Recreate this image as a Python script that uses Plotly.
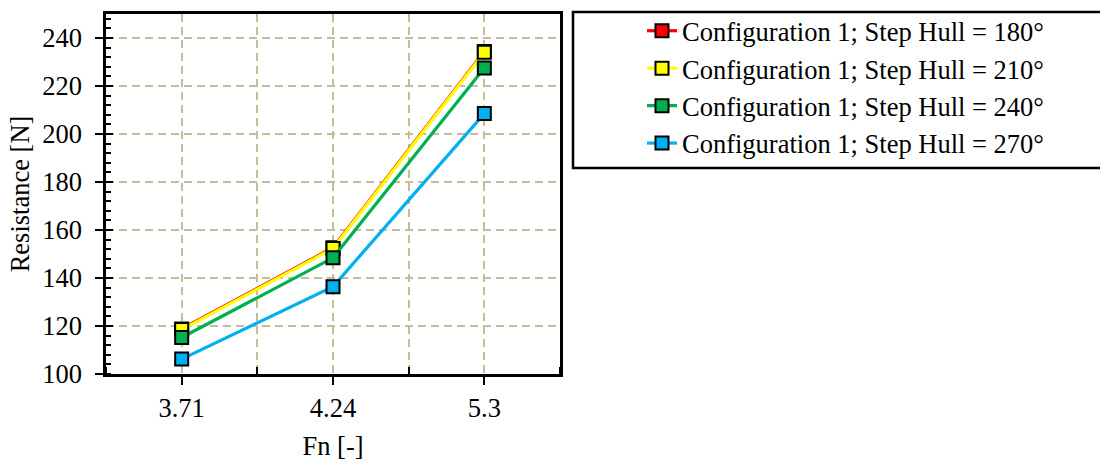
import plotly.graph_objects as go

fn_labels = ["3.71", "4.24", "5.3"]
series_names = [
    "Configuration 1; Step Hull = 180°",
    "Configuration 1; Step Hull = 210°",
    "Configuration 1; Step Hull = 240°",
    "Configuration 1; Step Hull = 270°",
]
res_180 = [118.8, 152.6, 234.4]
res_210 = [118.5, 152.3, 234.1]
res_240 = [115.2, 148.4, 227.5]
res_270 = [106.2, 136.4, 208.5]
colors = ["#FF0000", "#FFFF00", "#00B050", "#00B0F0"]

FONT = "Liberation Serif"
FS = 26.5
W, H = 1100, 461
L, R, T, B = 106, 560, 14, 374

xpos = list(range(len(fn_labels)))

fig = go.Figure()
for name, vals, col in zip(series_names, [res_180, res_210, res_240, res_270], colors):
    fig.add_trace(go.Scatter(
        x=xpos, y=vals, name=name, mode="lines+markers",
        line=dict(color=col, width=3.2),
        marker=dict(symbol="square", size=13, color=col, line=dict(color="black", width=2)),
        legendgroup=name,
    ))

# invisible trace to anchor the second y axis (cross ticks)
fig.add_trace(go.Scatter(x=[None], y=[None], yaxis="y2", showlegend=False, hoverinfo="skip"))

grid_col = "#C4BD97"
fig.update_layout(
    width=W, height=H,
    margin=dict(l=L, r=W - R, t=T, b=H - B, pad=0, autoexpand=False),
    paper_bgcolor="white", plot_bgcolor="white",
    font=dict(family=FONT, size=FS, color="black"),
    xaxis=dict(
        range=[-0.5, 2.5], tickmode="array", tickvals=xpos, ticktext=fn_labels,
        ticks="outside", ticklen=8, tickwidth=2, tickcolor="black",
        showgrid=True, gridcolor=grid_col, gridwidth=2, griddash="8px,5px",
        minor=dict(tick0=0.5, dtick=1, ticks="inside", ticklen=7, tickwidth=2, tickcolor="black",
                   showgrid=True, gridcolor=grid_col, gridwidth=2, griddash="8px,5px"),
        showline=True, linecolor="black", linewidth=2.5, mirror=True,
        zeroline=False, ticklabelstandoff=0, automargin=False,
        title=dict(text="Fn [-]", font=dict(size=FS), standoff=16),
    ),
    yaxis=dict(
        range=[100, 250], tick0=100, dtick=20,
        ticks="outside", ticklen=8, tickwidth=2, tickcolor="black",
        showgrid=True, gridcolor=grid_col, gridwidth=2, griddash="8px,5px",
        minor=dict(dtick=4, ticks="inside", ticklen=5, tickwidth=2, tickcolor="black", showgrid=False),
        showline=True, linecolor="black", linewidth=2.5, mirror=True,
        zeroline=False, ticklabelstandoff=8, automargin=False,
        title=dict(text="Resistance [N]", font=dict(size=FS), standoff=5),
    ),
    yaxis2=dict(
        range=[100, 250], tick0=100, dtick=20, overlaying="y", side="left", anchor="x",
        ticks="inside", ticklen=7, tickwidth=2, tickcolor="black", automargin=False,
        showticklabels=False, showgrid=False, zeroline=False, showline=False,
    ),
    showlegend=True,
    legend=dict(
        x=(642 - L) / (R - L), y=1.0 + 7 / (B - T), xanchor="left", yanchor="top",
        bgcolor="rgba(0,0,0,0)", borderwidth=0,
        font=dict(family=FONT, size=FS, color="black"),
        tracegroupgap=8, traceorder="normal",
    ),
    shapes=[dict(
        type="rect", xref="paper", yref="paper",
        x0=(573 - L) / (R - L), x1=(1115 - L) / (R - L),
        y0=(B - 168) / (B - T), y1=(B - 12) / (B - T),
        line=dict(color="black", width=2.5), fillcolor="rgba(0,0,0,0)", layer="below",
    )],
)

fig.write_html("out.html")
